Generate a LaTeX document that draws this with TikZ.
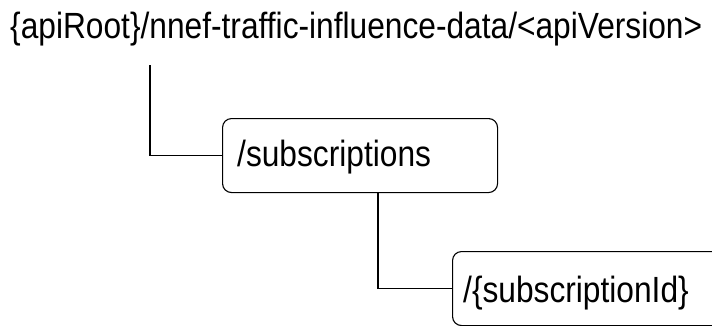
\documentclass[tikz,border=0pt]{standalone}
\usepackage{fontspec}
\usepackage{graphicx}
\setmainfont{Liberation Sans}
\newcommand{\tallt}[1]{\scalebox{1}[1.15]{#1}}
\begin{document}
\begin{tikzpicture}[x=1pt,y=-1pt,
  resbox/.style={draw, line width=1.1pt, rounded corners=9pt, inner sep=0pt, anchor=north west},
  restext/.style={anchor=base west, inner sep=0pt, font=\fontsize{31.7}{38}\selectfont},
  conn/.style={draw, line width=1.1pt}]
\useasboundingbox (0,0) rectangle (712,325);
\clip (0,0) rectangle (712,325);
\node[restext] (root) at (10,38) {\tallt{\{apiRoot\}/nnef-traffic-influence-data/<apiVersion>}};
\node[resbox, minimum width=275pt, minimum height=74pt] (sub) at (222,118) {};
\node[restext] (subt) at (237,166) {\tallt{/subscriptions}};
\node[resbox, minimum width=300pt, minimum height=74pt] (sid) at (452,251) {};
\node[restext] (sidt) at (463,302) {\tallt{/\{subscriptionId\}}};
\coordinate (c1) at (150,65);
\coordinate (c2) at (378,192);
\draw[conn] (c1) |- (sub.west);
\draw[conn] (c2) |- (sid.west);
\end{tikzpicture}
\end{document}
